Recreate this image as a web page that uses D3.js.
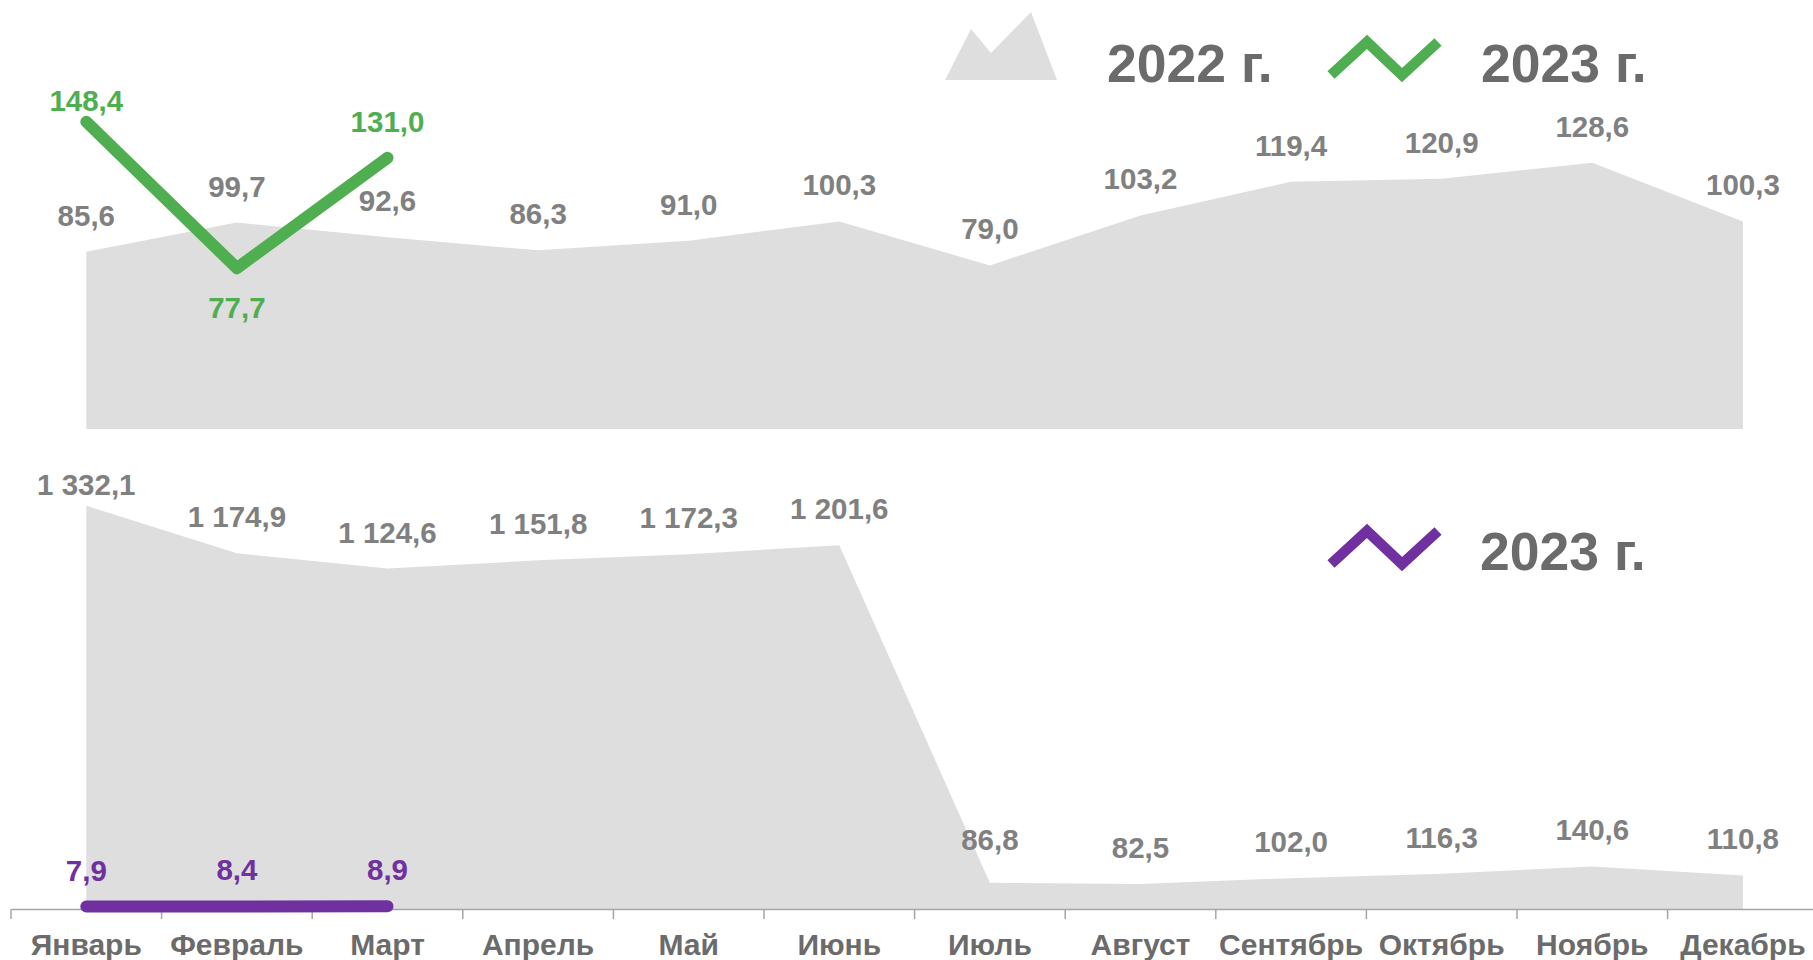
<!DOCTYPE html>
<html>
<head>
<meta charset="utf-8">
<script src="https://cdn.jsdelivr.net/npm/d3@7"></script>
<style>
  body { margin: 0; background: #fff; }
  svg text { font-family: "Liberation Sans", Arial, sans-serif; font-weight: bold; }
</style>
</head>
<body>
<div id="chart"></div>
<script>
var months = ['Январь', 'Февраль', 'Март', 'Апрель', 'Май', 'Июнь', 'Июль', 'Август', 'Сентябрь', 'Октябрь', 'Ноябрь', 'Декабрь'];
var top2022 = [85.6, 99.7, 92.6, 86.3, 91.0, 100.3, 79.0, 103.2, 119.4, 120.9, 128.6, 100.3];
var top2023 = [148.4, 77.7, 131.0];
var bottom2022 = [1332.1, 1174.9, 1124.6, 1151.8, 1172.3, 1201.6, 86.8, 82.5, 102.0, 116.3, 140.6, 110.8];
var bottom2023 = [7.9, 8.4, 8.9];
var legendYears = ['2022 г.', '2023 г.'];

var W = 1813, H = 960;
var grey = '#dedede', green = '#4fae4f', purple = '#7030a0';
var labelGrey = '#808080', textGrey = '#6b6b6b';

var fmt = d3.formatLocale({decimal: ',', thousands: ' ', grouping: [3]}).format(',.1f');

var svg = d3.select('#chart').append('svg')
    .attr('width', W)
    .attr('height', H);

var x = d3.scaleBand()
    .domain(months)
    .range([11, 11 + 12 * 150.6]);
var cx = function (m) { return x(m) + x.bandwidth() / 2; };

var yTop = d3.scaleLinear().domain([0, 200]).range([429, 15]);
var yBot = d3.scaleLinear().domain([0, 1400]).range([909, 909 - 1400 * 0.3027]);

// label offsets (baseline above the point), with a few exceptions like in the original
var above = 26;

function drawArea (values, y) {
    var area = d3.area()
        .x(function (d, i) { return cx(months[i]); })
        .y0(y(0))
        .y1(function (d) { return y(d); });
    svg.append('path')
        .datum(values)
        .attr('d', area)
        .attr('fill', grey);
}

function drawLine (values, y, color) {
    var line = d3.line()
        .x(function (d, i) { return cx(months[i]); })
        .y(function (d) { return y(d); });
    svg.append('path')
        .datum(values)
        .attr('d', line)
        .attr('fill', 'none')
        .attr('stroke', color)
        .attr('stroke-width', 12)
        .attr('stroke-linecap', 'round')
        .attr('stroke-linejoin', 'round');
}

function drawLabels (values, y, color, offsets) {
    svg.append('g').selectAll('text')
        .data(values)
        .join('text')
        .attr('x', function (d, i) { return cx(months[i]); })
        .attr('y', function (d, i) {
            var off = offsets && offsets[i] !== undefined ? offsets[i] : -above;
            return y(d) + off;
        })
        .attr('text-anchor', 'middle')
        .attr('font-size', 29.5)
        .attr('fill', color)
        .text(function (d) { return fmt(d); });
}

// top chart
drawArea(top2022, yTop);
drawLabels(top2022, yTop, labelGrey);
drawLine(top2023, yTop, green);
drawLabels(top2023, yTop, green, [-11, 50, -26]);

// bottom chart
drawArea(bottom2022, yBot);
drawLabels(bottom2022, yBot, labelGrey, {0: -11, 6: -33});

var xAxis = d3.axisBottom(x)
    .tickSize(0)
    .tickPadding(0)
    .tickFormat('');
var axisG = svg.append('g')
    .attr('transform', 'translate(0,' + yBot(0) + ')')
    .call(xAxis);
axisG.select('.domain')
    .attr('stroke', '#a6a6a6')
    .attr('stroke-width', 1.5);

// tick marks on band boundaries
svg.append('g').selectAll('line')
    .data(months)
    .join('line')
    .attr('x1', function (m) { return x(m); })
    .attr('x2', function (m) { return x(m); })
    .attr('y1', yBot(0))
    .attr('y2', yBot(0) + 10)
    .attr('stroke', '#a6a6a6')
    .attr('stroke-width', 1.5);

svg.append('g').selectAll('text')
    .data(months)
    .join('text')
    .attr('x', cx)
    .attr('y', 955)
    .attr('text-anchor', 'middle')
    .attr('font-size', 30)
    .attr('fill', textGrey)
    .text(function (d) { return d; });

drawLine(bottom2023, yBot, purple);
drawLabels(bottom2023, yBot, purple);

// legends
svg.append('path')
    .attr('d', 'M945,80 L971,29 L991,53 L1031,12 L1057,80 Z')
    .attr('fill', grey);
svg.append('text')
    .attr('x', 1107).attr('y', 82)
    .attr('font-size', 53.5)
    .attr('fill', textGrey)
    .text(legendYears[0]);

function legendZig (y0, color) {
    svg.append('path')
        .attr('d', 'M1331,' + (y0 + 33) + ' L1367,' + y0 + ' L1402,' + (y0 + 33) + ' L1438,' + y0)
        .attr('fill', 'none')
        .attr('stroke', color)
        .attr('stroke-width', 10.5);
}
legendZig(42, green);
svg.append('text')
    .attr('x', 1481).attr('y', 82)
    .attr('font-size', 53.5)
    .attr('fill', textGrey)
    .text(legendYears[1]);

legendZig(531, purple);
svg.append('text')
    .attr('x', 1480).attr('y', 570)
    .attr('font-size', 53.5)
    .attr('fill', textGrey)
    .text(legendYears[1]);
</script>
</body>
</html>
